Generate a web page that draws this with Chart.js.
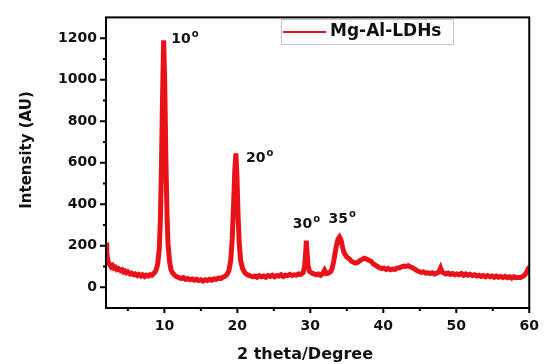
<!DOCTYPE html>
<html>
<head>
<meta charset="utf-8">
<script src="https://cdn.jsdelivr.net/npm/chart.js@4.4.0/dist/chart.umd.min.js"></script>
<style>
  html, body { margin: 0; padding: 0; background: #fff; }
</style>
</head>
<body>
<canvas id="xrd" width="549" height="364"></canvas>
<script>
const seriesName = 'Mg-Al-LDHs';
const xTitle = '2 theta/Degree';
const yTitle = 'Intensity (AU)';
const xTicks = [10, 20, 30, 40, 50, 60];
const xMinor = [5, 15, 25, 35, 45, 55];
const yTicks = [0, 200, 400, 600, 800, 1000, 1200];
const yMinor = [100, 300, 500, 700, 900, 1100];

// [2 theta, intensity]
const pattern = [
  [2.0, 215], [2.1, 170], [2.2, 140], [2.35, 118], [2.5, 110], [2.7, 98], [2.9, 104], [3.1, 92],
  [3.3, 96], [3.5, 86], [3.7, 90], [4.0, 80], [4.2, 84], [4.4, 74], [4.6, 78], [4.8, 70],
  [5.0, 74], [5.3, 64], [5.5, 68], [5.8, 60], [6.0, 64], [6.3, 56], [6.5, 62], [6.8, 54],
  [7.0, 60], [7.3, 52], [7.5, 58], [7.8, 54], [8.0, 60], [8.3, 58], [8.5, 66], [8.7, 72],
  [8.9, 86], [9.1, 115], [9.3, 185], [9.45, 320], [9.6, 580], [9.75, 920], [9.9, 1190],
  [10.05, 980], [10.2, 630], [10.35, 360], [10.5, 210], [10.7, 125], [10.9, 86], [11.1, 70],
  [11.4, 58], [11.7, 50], [12.0, 46], [12.3, 42], [12.6, 46], [12.9, 38], [13.2, 42], [13.5, 36],
  [13.8, 40], [14.1, 34], [14.4, 38], [14.7, 32], [15.0, 36], [15.3, 30], [15.6, 36], [15.9, 32],
  [16.2, 38], [16.5, 34], [16.8, 40], [17.1, 38], [17.4, 44], [17.7, 42], [18.0, 48], [18.3, 52],
  [18.6, 62], [18.85, 82], [19.1, 130], [19.3, 235], [19.5, 410], [19.65, 565], [19.8, 645],
  [19.95, 530], [20.1, 345], [20.25, 215], [20.45, 130], [20.7, 92], [20.95, 74], [21.2, 64],
  [21.5, 58], [21.8, 54], [22.1, 50], [22.4, 54], [22.7, 48], [23.0, 56], [23.3, 50], [23.6, 54],
  [23.9, 48], [24.2, 56], [24.5, 52], [24.8, 58], [25.1, 50], [25.4, 56], [25.7, 54], [26.0, 60],
  [26.3, 52], [26.6, 58], [26.9, 56], [27.2, 62], [27.5, 56], [27.8, 60], [28.1, 58], [28.4, 64],
  [28.7, 62], [29.0, 70], [29.2, 95], [29.35, 160], [29.45, 225], [29.55, 170], [29.7, 100],
  [29.9, 76], [30.2, 68], [30.5, 64], [30.8, 60], [31.1, 64], [31.4, 58], [31.7, 66], [31.95, 82],
  [32.2, 66], [32.5, 68], [32.8, 76], [33.0, 92], [33.2, 125], [33.4, 165], [33.6, 205],
  [33.8, 232], [34.0, 242], [34.2, 228], [34.4, 195], [34.6, 168], [34.8, 156], [35.0, 146],
  [35.3, 138], [35.6, 126], [35.9, 120], [36.2, 116], [36.5, 120], [36.8, 128], [37.1, 134],
  [37.4, 140], [37.7, 136], [38.0, 130], [38.3, 126], [38.6, 114], [38.9, 106], [39.2, 100],
  [39.5, 94], [39.8, 90], [40.1, 92], [40.4, 86], [40.7, 90], [41.0, 84], [41.3, 88], [41.6, 86],
  [41.9, 92], [42.2, 94], [42.5, 98], [42.8, 102], [43.1, 100], [43.4, 104], [43.7, 98],
  [44.0, 94], [44.3, 88], [44.6, 80], [44.9, 76], [45.2, 72], [45.5, 74], [45.8, 68], [46.1, 70],
  [46.4, 66], [46.7, 70], [47.0, 64], [47.3, 68], [47.6, 72], [47.85, 92], [48.05, 74],
  [48.3, 68], [48.6, 64], [48.9, 68], [49.2, 62], [49.5, 66], [49.8, 60], [50.1, 64], [50.4, 60],
  [50.7, 66], [51.0, 58], [51.3, 64], [51.6, 58], [51.9, 62], [52.2, 56], [52.5, 60], [52.8, 54],
  [53.1, 58], [53.4, 52], [53.7, 56], [54.0, 50], [54.3, 56], [54.6, 50], [54.9, 54], [55.2, 48],
  [55.5, 54], [55.8, 48], [56.1, 52], [56.4, 46], [56.7, 52], [57.0, 46], [57.3, 50], [57.6, 44],
  [57.9, 50], [58.2, 46], [58.5, 48], [58.8, 46], [59.1, 52], [59.4, 60], [59.7, 76], [60.0, 100]
];

// peak tags, placed in data coordinates
const peakLabels = [
  { text: '10', x: 10.95, y: 1195 },
  { text: '20', x: 21.2, y: 619 },
  { text: '30', x: 27.6, y: 305 },
  { text: '35', x: 32.5, y: 329 }
];

const red = 'rgb(232, 18, 24)';
const bold = (size) => ({ family: 'DejaVu Sans', size, weight: 'bold' });

const decorations = {
  id: 'decorations',
  afterDatasetsDraw(chart) {
    const { ctx, chartArea: a, scales } = chart;
    ctx.save();

    // frame
    ctx.strokeStyle = '#000';
    ctx.lineWidth = 2;
    ctx.strokeRect(a.left, a.top, a.right - a.left, a.bottom - a.top);

    // tick marks
    ctx.beginPath();
    xTicks.forEach((v) => {
      const px = scales.x.getPixelForValue(v);
      ctx.moveTo(px, a.bottom); ctx.lineTo(px, a.bottom + 5);
    });
    xMinor.forEach((v) => {
      const px = scales.x.getPixelForValue(v);
      ctx.moveTo(px, a.bottom); ctx.lineTo(px, a.bottom + 3);
    });
    yTicks.forEach((v) => {
      const py = scales.y.getPixelForValue(v);
      ctx.moveTo(a.left - 6, py); ctx.lineTo(a.left, py);
    });
    yMinor.forEach((v) => {
      const py = scales.y.getPixelForValue(v);
      ctx.moveTo(a.left - 3, py); ctx.lineTo(a.left, py);
    });
    ctx.stroke();

    // legend
    ctx.lineWidth = 1;
    ctx.strokeStyle = '#c4c4c4';
    ctx.strokeRect(281.5, 19.5, 172, 25);
    ctx.strokeStyle = red;
    ctx.lineWidth = 2;
    ctx.beginPath();
    ctx.moveTo(283, 32); ctx.lineTo(326, 32);
    ctx.stroke();
    ctx.fillStyle = '#111';
    ctx.font = 'bold 17px "DejaVu Sans"';
    ctx.textBaseline = 'middle';
    ctx.textAlign = 'left';
    ctx.fillText(chart.data.datasets[0].label, 330, 32);

    // peak tags with degree sign
    peakLabels.forEach((p) => {
      const px = scales.x.getPixelForValue(p.x);
      const py = scales.y.getPixelForValue(p.y);
      ctx.font = 'bold 14px "DejaVu Sans"';
      ctx.fillText(p.text, px, py);
      const w = ctx.measureText(p.text).width;
      ctx.font = 'bold 10px "DejaVu Sans"';
      ctx.fillText('o', px + w + 1, py - 5);
    });

    // axis titles
    ctx.font = 'bold 16px "DejaVu Sans"';
    ctx.textAlign = 'center';
    ctx.fillText(xTitle, 305, 355);
    ctx.translate(27, 150);
    ctx.rotate(-Math.PI / 2);
    ctx.font = 'bold 15px "DejaVu Sans"';
    ctx.fillText(yTitle, 0, 0);
    ctx.restore();
  }
};

new Chart(document.getElementById('xrd'), {
  type: 'line',
  data: {
    datasets: [{
      label: seriesName,
      data: pattern.map(([x, y]) => ({ x, y })),
      borderColor: red,
      borderWidth: 5,
      pointRadius: 0,
      tension: 0,
      fill: false
    }]
  },
  options: {
    responsive: false,
    animation: false,
    layout: { padding: { top: 13, right: 17, left: 0, bottom: 0 } },
    plugins: { legend: { display: false }, tooltip: { enabled: false } },
    scales: {
      x: {
        type: 'linear',
        min: 2,
        max: 60,
        afterBuildTicks: (s) => { s.ticks = xTicks.map((v) => ({ value: v })); },
        afterFit: (s) => { s.height = 56; },
        grid: { display: false, drawTicks: false },
        border: { display: false },
        ticks: { color: '#111', font: bold(14), padding: 10, maxRotation: 0, callback: (v) => String(v) }
      },
      y: {
        min: -100,
        max: 1300,
        afterBuildTicks: (s) => { s.ticks = yTicks.map((v) => ({ value: v })); },
        afterFit: (s) => { s.width = 106; },
        grid: { display: false, drawTicks: false },
        border: { display: false },
        ticks: { color: '#111', font: bold(14), padding: 9, callback: (v) => String(v) }
      }
    }
  },
  plugins: [decorations]
});
</script>
</body>
</html>
